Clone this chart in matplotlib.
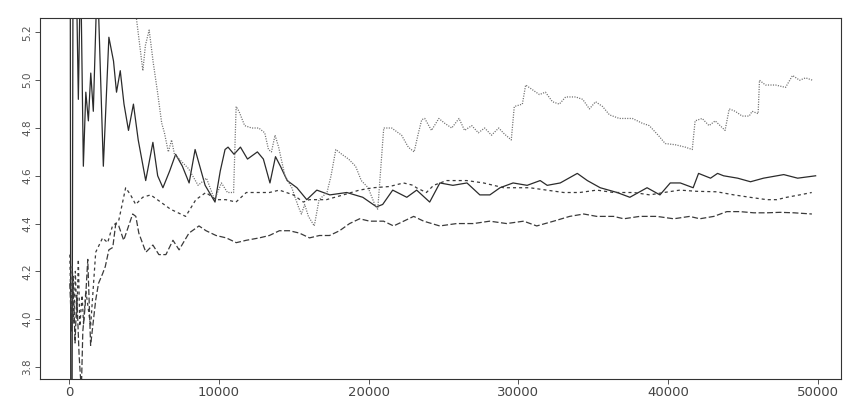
import matplotlib
matplotlib.use("Agg")
import matplotlib.pyplot as plt

# running estimates against iteration count, one list pair per estimator
solid_x = [20, 60, 100, 180, 260, 450, 600, 750, 935, 1100, 1270, 1430, 1600, 1870,
           2270, 2640, 2950, 3150, 3400, 3650, 3950, 4280, 4600, 5100, 5580, 5900,
           6250, 6700, 7100, 7550, 8000, 8400, 9070, 9730, 10080, 10400, 10600, 11000,
           11430, 11900, 12560, 12960, 13400, 13770, 14100, 14550, 15200, 15860, 16530,
           17400, 18530, 19600, 20520, 20930, 21600, 22540, 23200, 24070, 24750, 25620,
           26560, 27420, 28090, 28770, 29640, 30580, 31450, 31920, 32790, 33930, 34600,
           35460, 36590, 37440, 38590, 39450, 40140, 40810, 41670, 42030, 42830, 43300,
           43700, 44640, 45500, 46370, 47720, 48650, 49850]
solid_y = [6.0, 5.5, 3.3, 3.6, 5.9, 5.5, 4.92, 5.5, 4.64, 4.95, 4.83, 5.03, 4.87, 5.45,
           4.64, 5.18, 5.08, 4.95, 5.04, 4.90, 4.79, 4.90, 4.75, 4.58, 4.74, 4.60,
           4.55, 4.62, 4.69, 4.64, 4.57, 4.71, 4.56, 4.49, 4.62, 4.71, 4.72, 4.69,
           4.72, 4.67, 4.70, 4.67, 4.57, 4.68, 4.64, 4.58, 4.55, 4.50, 4.54,
           4.52, 4.53, 4.51, 4.47, 4.48, 4.54, 4.51, 4.54, 4.49, 4.57, 4.56,
           4.57, 4.52, 4.52, 4.55, 4.57, 4.56, 4.58, 4.56, 4.57, 4.61, 4.58,
           4.55, 4.53, 4.51, 4.55, 4.52, 4.57, 4.57, 4.55, 4.61, 4.59, 4.61,
           4.60, 4.59, 4.575, 4.59, 4.605, 4.59, 4.60]

dotted_x = [500, 3000, 4300, 4910, 5080, 5330, 5460, 5600, 5890, 6170, 6350, 6610, 6830,
            7020, 7490, 7960, 8600, 9160, 9700, 10160, 10560, 10970, 11140, 11330, 11710,
            12180, 12650, 13050, 13300, 13500, 13740, 13980, 14400, 14860, 15300, 15500,
            15720, 15970, 16360, 16680, 17210, 17480, 17800, 18200, 18650, 19120, 19500,
            19960, 20400, 20600, 21000, 21530, 22190, 22640, 23030, 23320, 23540, 23740,
            24190, 24680, 25070, 25540, 26030, 26400, 26880, 27320, 27740, 28200, 28680,
            29060, 29520, 29720, 30260, 30480, 30940, 31400, 31800, 32270, 32730, 33150,
            33820, 34290, 34740, 35150, 35620, 36080, 36740, 37610, 38270, 38740, 39400,
            39800, 40470, 41140, 41610, 41800, 42270, 42730, 43140, 43800, 44080, 44480,
            44940, 45410, 45610, 46010, 46100, 46500, 47170, 47840, 48310, 48780, 49180,
            49650]
dotted_y = [8.0, 6.2, 5.35, 5.04, 5.146, 5.21, 5.146, 5.075, 4.95, 4.82, 4.78, 4.70, 4.75,
            4.69, 4.66, 4.63, 4.56, 4.59, 4.50, 4.57, 4.53, 4.53, 4.89, 4.87, 4.81,
            4.80, 4.80, 4.78, 4.71, 4.70, 4.77, 4.72, 4.60, 4.55, 4.47, 4.44,
            4.48, 4.43, 4.39, 4.50, 4.53, 4.60, 4.71, 4.69, 4.67, 4.64, 4.58,
            4.55, 4.48, 4.46, 4.80, 4.80, 4.77, 4.72, 4.70, 4.78, 4.835, 4.84,
            4.79, 4.84, 4.82, 4.80, 4.84, 4.79, 4.81, 4.78, 4.80, 4.77, 4.80,
            4.775, 4.75, 4.89, 4.90, 4.98, 4.96, 4.94, 4.95, 4.91, 4.90, 4.93,
            4.93, 4.92, 4.88, 4.91, 4.89, 4.855, 4.84, 4.84, 4.82, 4.81, 4.765,
            4.735, 4.73, 4.72, 4.71, 4.83, 4.84, 4.81, 4.83, 4.79, 4.88, 4.87,
            4.85, 4.85, 4.87, 4.86, 5.00, 4.98, 4.98, 4.97, 5.02, 5.00, 5.01,
            5.00]

short_x = [30, 120, 200, 300, 400, 500, 600, 700, 850, 950, 1100, 1420, 1760, 2220, 2560,
           2880, 3290, 3560, 3760, 4090, 4430, 4900, 5430, 6100, 6760, 7770, 8450, 9120,
           9790, 10460, 11130, 11820, 12690, 13360, 14030, 14960, 15630, 16030, 17170,
           18300, 19370, 20300, 21380, 22320, 22980, 23180, 23850, 24330, 25200, 26540,
           27670, 29010, 30750, 31880, 33020, 34090, 35230, 36360, 37700, 38770, 39710,
           40780, 41920, 43250, 44390, 45460, 46590, 47260, 47920, 48790, 49590]
short_y = [4.27, 4.00, 4.22, 3.98, 4.20, 4.00, 4.25, 3.97, 4.10, 3.98, 4.12, 3.97, 4.28, 4.34, 4.32,
           4.39, 4.41, 4.49, 4.55, 4.52, 4.48, 4.51, 4.52, 4.49, 4.46, 4.43, 4.50, 4.53,
           4.50, 4.50, 4.49, 4.53, 4.53, 4.53, 4.54, 4.52, 4.49, 4.50, 4.50,
           4.52, 4.54, 4.55, 4.555, 4.57, 4.56, 4.55, 4.53, 4.56, 4.58, 4.58,
           4.57, 4.55, 4.55, 4.54, 4.53, 4.53, 4.54, 4.53, 4.53, 4.52, 4.53,
           4.54, 4.535, 4.533, 4.52, 4.51, 4.50, 4.50, 4.51, 4.52, 4.53]

long_x = [30, 150, 250, 380, 500, 650, 800, 900, 1050, 1230, 1420, 1760, 1950, 2220, 2400,
          2640, 2900, 3100, 3300, 3630, 4230, 4440, 4640, 5110, 5580, 5980, 6450, 6920,
          7330, 7990, 8660, 9130, 9800, 10480, 11150, 11820, 12690, 13360, 14030, 14700,
          15370, 16040, 16710, 17380, 18050, 18720, 19390, 20060, 20990, 21660, 22330,
          23000, 23670, 24740, 25870, 27000, 28080, 29210, 30350, 31220, 32350, 33420,
          34360, 35230, 36360, 37030, 38100, 39240, 40370, 41440, 42110, 43050, 43920,
          44790, 45720, 46590, 47460, 48400, 49600]
long_y = [4.15, 3.95, 4.18, 3.90, 4.10, 3.85, 3.70, 3.95, 4.05, 4.25, 3.89, 4.08, 4.15, 4.19, 4.22,
          4.29, 4.30, 4.40, 4.39, 4.33, 4.44, 4.43, 4.36, 4.28, 4.31, 4.27, 4.27, 4.33,
          4.29, 4.36, 4.39, 4.37, 4.35, 4.34, 4.32, 4.33, 4.34, 4.35, 4.37, 4.37,
          4.36, 4.34, 4.35, 4.35, 4.37, 4.40, 4.42, 4.41, 4.41, 4.39, 4.41,
          4.43, 4.41, 4.39, 4.40, 4.40, 4.41, 4.40, 4.41, 4.39, 4.41, 4.43,
          4.44, 4.43, 4.43, 4.42, 4.43, 4.43, 4.42, 4.43, 4.42, 4.43, 4.45,
          4.45, 4.445, 4.445, 4.447, 4.445, 4.44]

x_ticks = [0, 10000, 20000, 30000, 40000, 50000]
y_ticks = [3.8, 4.0, 4.2, 4.4, 4.6, 4.8, 5.0, 5.2]

plt.rcParams["lines.scale_dashes"] = False
fig = plt.figure(figsize=(8.45, 4.03), dpi=100)
ax = fig.add_axes([0.047, 0.06, 0.948, 0.895])

ax.plot(solid_x, solid_y, color="#2b2b2b", lw=0.9)
ax.plot(dotted_x, dotted_y, color="#6e6e6e", lw=0.9, dashes=(0.8, 1.0))
ax.plot(short_x, short_y, color="#3a3a3a", lw=0.9, dashes=(2.2, 2.2))
ax.plot(long_x, long_y, color="#3a3a3a", lw=0.9, dashes=(4.3, 1.8))

ax.set_xlim(-1980, 51530)
ax.set_ylim(3.75, 5.26)
ax.set_xticks(x_ticks)
ax.set_xticklabels([str(t) for t in x_ticks], fontsize=9.5, color="#444444")
ax.set_yticks(y_ticks)
ax.set_yticklabels([f"{t:.1f}" for t in y_ticks], fontsize=7.5, color="#555555",
                   rotation=90, va="center")
ax.tick_params(length=3.5, width=0.7, color="#555555", pad=2)
for s in ax.spines.values():
    s.set_color("#333333")
    s.set_linewidth(0.8)

fig.savefig("out.png", dpi=100)
